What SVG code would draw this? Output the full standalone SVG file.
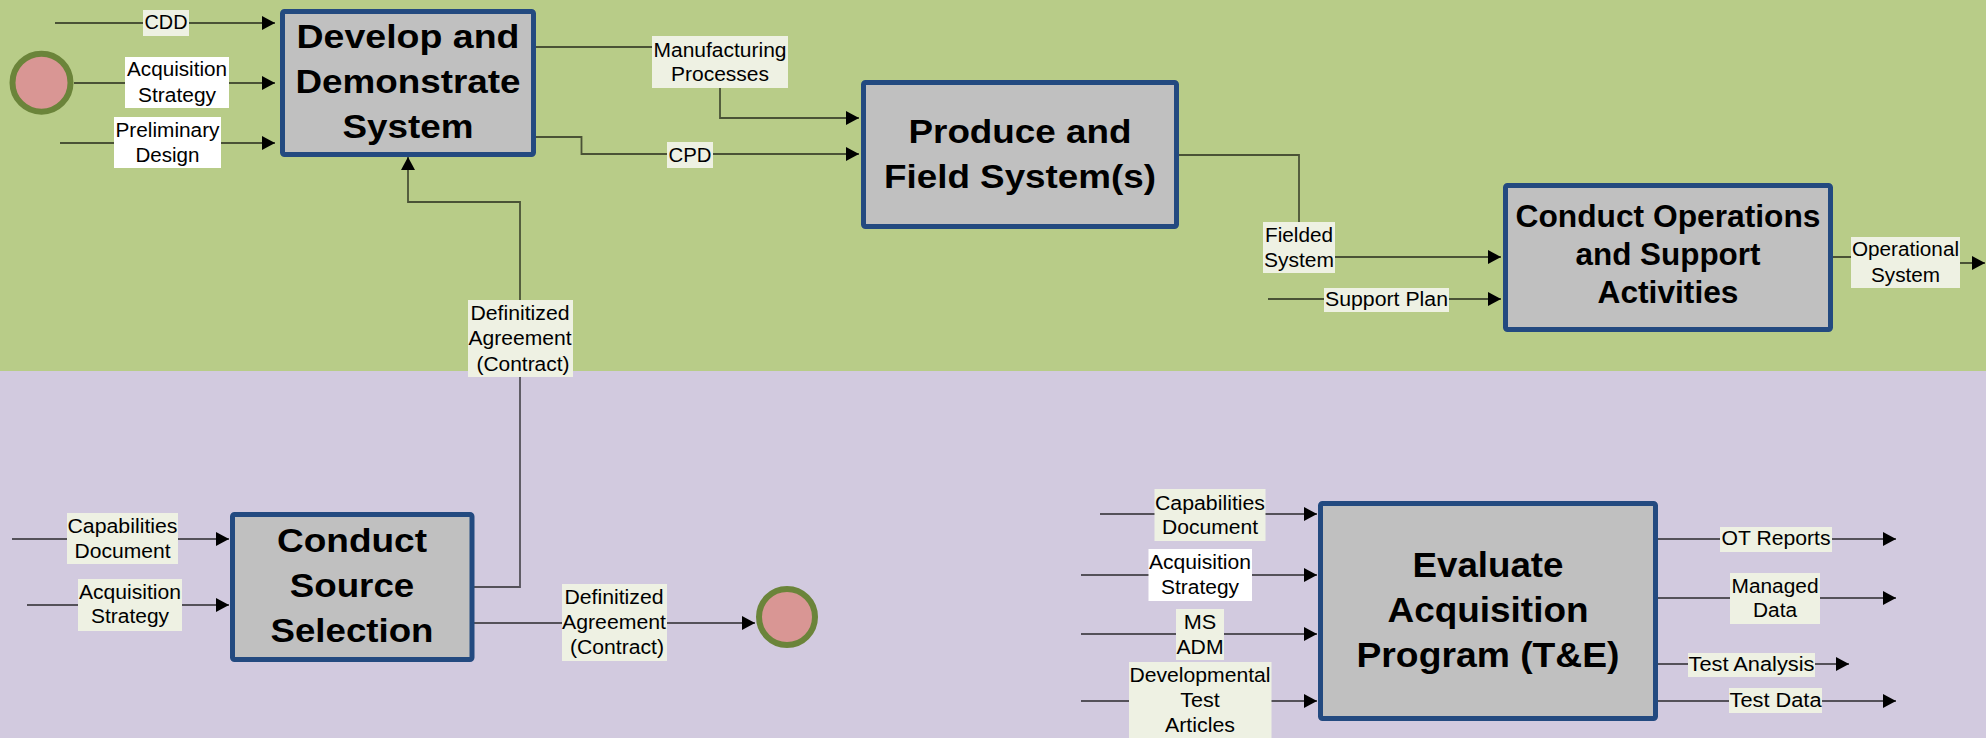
<svg xmlns="http://www.w3.org/2000/svg" width="1986" height="738" viewBox="0 0 1986 738">
<style>
.node rect{fill:#c0c0c0;stroke:#234a80;stroke-width:5}
.title{font-family:"Liberation Sans",Arial,sans-serif;font-weight:bold;fill:#000;text-anchor:middle}
.lbl{font-family:"Liberation Sans",Arial,sans-serif;font-size:20px;fill:#000;text-anchor:middle}
.lb{fill:#eef1e3}
.lw{fill:#ffffff}
.cn{fill:none;stroke:#000;stroke-opacity:0.6;stroke-width:1.8}
.ev{fill:#d99694;stroke:#6b843a;stroke-width:6}
</style>
<defs>
<marker id="arr" markerWidth="14" markerHeight="14" viewBox="0 0 14 14" refX="13" refY="7" orient="auto" markerUnits="userSpaceOnUse"><path d="M0,0 L13,7 L0,14 z" fill="#000"/></marker>
</defs>
<rect x="0" y="0" width="1986" height="371" fill="#b8cc88"/>
<rect x="0" y="371" width="1986" height="367" fill="#d2cadf"/>

<g id="connectors">
<path class="cn" d="M55,23 H275" marker-end="url(#arr)"/>
<path class="cn" d="M74,83 H275" marker-end="url(#arr)"/>
<path class="cn" d="M60,143 H275" marker-end="url(#arr)"/>
<path class="cn" d="M536,47 H720 V118 H859" marker-end="url(#arr)"/>
<path class="cn" d="M536,137 H581.5 V154 H859" marker-end="url(#arr)"/>
<path class="cn" d="M1178,155 H1299 V257 H1501" marker-end="url(#arr)"/>
<path class="cn" d="M1268,299 H1501" marker-end="url(#arr)"/>
<path class="cn" d="M1833,257 H1905 V263 H1985" marker-end="url(#arr)"/>
<path class="cn" d="M474,587 H520 V202 H408 V157" marker-end="url(#arr)"/>
<path class="cn" d="M12,539 H229" marker-end="url(#arr)"/>
<path class="cn" d="M27,605 H229" marker-end="url(#arr)"/>
<path class="cn" d="M474,623 H755" marker-end="url(#arr)"/>
<path class="cn" d="M1100,514 H1317" marker-end="url(#arr)"/>
<path class="cn" d="M1081,575 H1317" marker-end="url(#arr)"/>
<path class="cn" d="M1081,634 H1317" marker-end="url(#arr)"/>
<path class="cn" d="M1081,701 H1317" marker-end="url(#arr)"/>
<path class="cn" d="M1658,539 H1896" marker-end="url(#arr)"/>
<path class="cn" d="M1658,598 H1896" marker-end="url(#arr)"/>
<path class="cn" d="M1658,664 H1849" marker-end="url(#arr)"/>
<path class="cn" d="M1658,701 H1896" marker-end="url(#arr)"/>

<g id="labels">
<rect class="lb" x="143" y="10" width="46" height="26"/>
<text class="lbl" x="166" y="29" textLength="43" lengthAdjust="spacingAndGlyphs">CDD</text>
<rect class="lw" x="125" y="57" width="104" height="51"/>
<text class="lbl" x="177" y="76" textLength="100" lengthAdjust="spacingAndGlyphs">Acquisition</text>
<text class="lbl" x="177" y="101.5" textLength="78" lengthAdjust="spacingAndGlyphs">Strategy</text>
<rect class="lw" x="114" y="117" width="107" height="51"/>
<text class="lbl" x="167.5" y="137" textLength="104" lengthAdjust="spacingAndGlyphs">Preliminary</text>
<text class="lbl" x="167.5" y="162" textLength="64" lengthAdjust="spacingAndGlyphs">Design</text>
<rect class="lb" x="652" y="36" width="136" height="52"/>
<text class="lbl" x="720" y="56.5" textLength="133" lengthAdjust="spacingAndGlyphs">Manufacturing</text>
<text class="lbl" x="720" y="81" textLength="98" lengthAdjust="spacingAndGlyphs">Processes</text>
<rect class="lb" x="667" y="142" width="46" height="26"/>
<text class="lbl" x="690" y="161.5" textLength="43" lengthAdjust="spacingAndGlyphs">CPD</text>
<rect class="lb" x="1263" y="222" width="72" height="51"/>
<text class="lbl" x="1299" y="241.5" textLength="68" lengthAdjust="spacingAndGlyphs">Fielded</text>
<text class="lbl" x="1299" y="267" textLength="70" lengthAdjust="spacingAndGlyphs">System</text>
<rect class="lb" x="1324" y="288" width="125" height="24"/>
<text class="lbl" x="1386.5" y="306" textLength="123" lengthAdjust="spacingAndGlyphs">Support Plan</text>
<rect class="lb" x="1851" y="237" width="109" height="51"/>
<text class="lbl" x="1905.5" y="256" textLength="107" lengthAdjust="spacingAndGlyphs">Operational</text>
<text class="lbl" x="1905.5" y="281.5" textLength="69" lengthAdjust="spacingAndGlyphs">System</text>
<rect class="lb" x="468" y="300" width="105" height="77"/>
<text class="lbl" x="520" y="320" textLength="99" lengthAdjust="spacingAndGlyphs">Definitized</text>
<text class="lbl" x="520" y="345" textLength="103" lengthAdjust="spacingAndGlyphs">Agreement</text>
<text class="lbl" x="523" y="370.5" textLength="93" lengthAdjust="spacingAndGlyphs">(Contract)</text>
<rect class="lb" x="67" y="513" width="111" height="51"/>
<text class="lbl" x="122.5" y="532.5" textLength="110" lengthAdjust="spacingAndGlyphs">Capabilities</text>
<text class="lbl" x="122.5" y="557.5" textLength="96" lengthAdjust="spacingAndGlyphs">Document</text>
<rect class="lb" x="78" y="579" width="104" height="52"/>
<text class="lbl" x="130" y="598.5" textLength="102" lengthAdjust="spacingAndGlyphs">Acquisition</text>
<text class="lbl" x="130" y="623" textLength="78" lengthAdjust="spacingAndGlyphs">Strategy</text>
<rect class="lb" x="562" y="584" width="105" height="77"/>
<text class="lbl" x="614" y="604" textLength="99" lengthAdjust="spacingAndGlyphs">Definitized</text>
<text class="lbl" x="614" y="628.5" textLength="104" lengthAdjust="spacingAndGlyphs">Agreement</text>
<text class="lbl" x="617" y="654" textLength="94" lengthAdjust="spacingAndGlyphs">(Contract)</text>
<rect class="lb" x="1154.5" y="489" width="111" height="52"/>
<text class="lbl" x="1210" y="509.5" textLength="110" lengthAdjust="spacingAndGlyphs">Capabilities</text>
<text class="lbl" x="1210" y="533.5" textLength="96" lengthAdjust="spacingAndGlyphs">Document</text>
<rect class="lw" x="1148.5" y="549" width="103.5" height="52"/>
<text class="lbl" x="1200" y="568.5" textLength="102" lengthAdjust="spacingAndGlyphs">Acquisition</text>
<text class="lbl" x="1200" y="593.5" textLength="78" lengthAdjust="spacingAndGlyphs">Strategy</text>
<rect class="lb" x="1176" y="609" width="48" height="51"/>
<text class="lbl" x="1200" y="628.5" textLength="32.5" lengthAdjust="spacingAndGlyphs">MS</text>
<text class="lbl" x="1200" y="653.5" textLength="47" lengthAdjust="spacingAndGlyphs">ADM</text>
<rect class="lb" x="1129" y="662" width="142.5" height="78"/>
<text class="lbl" x="1200" y="682" textLength="141" lengthAdjust="spacingAndGlyphs">Developmental</text>
<text class="lbl" x="1200" y="707" textLength="39.5" lengthAdjust="spacingAndGlyphs">Test</text>
<text class="lbl" x="1200" y="732" textLength="70" lengthAdjust="spacingAndGlyphs">Articles</text>
<rect class="lb" x="1720" y="527" width="112" height="25"/>
<text class="lbl" x="1776" y="545" textLength="109" lengthAdjust="spacingAndGlyphs">OT Reports</text>
<rect class="lb" x="1730" y="573" width="90" height="51"/>
<text class="lbl" x="1775" y="593" textLength="87" lengthAdjust="spacingAndGlyphs">Managed</text>
<text class="lbl" x="1775" y="617" textLength="44" lengthAdjust="spacingAndGlyphs">Data</text>
<rect class="lb" x="1688" y="653" width="127" height="24"/>
<text class="lbl" x="1751.5" y="670.5" textLength="126" lengthAdjust="spacingAndGlyphs">Test Analysis</text>
<rect class="lb" x="1729" y="688" width="93" height="25"/>
<text class="lbl" x="1775.5" y="706.5" textLength="92" lengthAdjust="spacingAndGlyphs">Test Data</text>
</g>
</g>

<g id="start-event"><circle class="ev" cx="41.5" cy="82.7" r="29"/></g>
<g id="end-event"><circle class="ev" cx="787" cy="617" r="28"/></g>

<g id="develop" class="node">
<rect x="282.5" y="11.5" width="251" height="143" rx="2"/>
<text class="title" font-size="34" x="408" y="48" textLength="223" lengthAdjust="spacingAndGlyphs">Develop and</text>
<text class="title" font-size="34" x="408" y="93" textLength="225" lengthAdjust="spacingAndGlyphs">Demonstrate</text>
<text class="title" font-size="34" x="408" y="138" textLength="131" lengthAdjust="spacingAndGlyphs">System</text>
</g>
<g id="produce" class="node">
<rect x="863.5" y="82.5" width="313" height="144" rx="2"/>
<text class="title" font-size="34" x="1020" y="143" textLength="223" lengthAdjust="spacingAndGlyphs">Produce and</text>
<text class="title" font-size="34" x="1020" y="188" textLength="272" lengthAdjust="spacingAndGlyphs">Field System(s)</text>
</g>
<g id="operations" class="node">
<rect x="1505.5" y="185.5" width="325" height="144" rx="2"/>
<text class="title" font-size="31" x="1668" y="227" textLength="305" lengthAdjust="spacingAndGlyphs">Conduct Operations</text>
<text class="title" font-size="31" x="1668" y="265" textLength="185" lengthAdjust="spacingAndGlyphs">and Support</text>
<text class="title" font-size="31" x="1668" y="303" textLength="141" lengthAdjust="spacingAndGlyphs">Activities</text>
</g>
<g id="source-selection" class="node">
<rect x="232.5" y="514.5" width="239.5" height="145" rx="2"/>
<text class="title" font-size="33" x="352" y="552" textLength="150" lengthAdjust="spacingAndGlyphs">Conduct</text>
<text class="title" font-size="33" x="352" y="597" textLength="124.5" lengthAdjust="spacingAndGlyphs">Source</text>
<text class="title" font-size="33" x="352" y="642" textLength="163" lengthAdjust="spacingAndGlyphs">Selection</text>
</g>
<g id="evaluate" class="node">
<rect x="1320.5" y="503.5" width="335" height="215" rx="2"/>
<text class="title" font-size="35" x="1488" y="577" textLength="151" lengthAdjust="spacingAndGlyphs">Evaluate</text>
<text class="title" font-size="35" x="1488" y="622" textLength="201" lengthAdjust="spacingAndGlyphs">Acquisition</text>
<text class="title" font-size="35" x="1488" y="667" textLength="263" lengthAdjust="spacingAndGlyphs">Program (T&amp;E)</text>
</g>
</svg>
